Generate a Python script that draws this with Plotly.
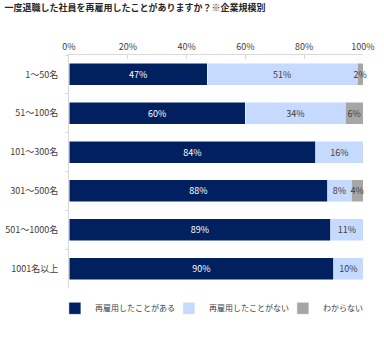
import plotly.graph_objects as go

categories = ["1～50名", "51～100名", "101～300名", "301～500名", "501～1000名", "1001名以上"]
series_names = ["再雇用したことがある", "再雇用したことがない", "わからない"]
yes_vals = [47, 60, 84, 88, 89, 90]
no_vals = [51, 34, 16, 8, 11, 10]
unk_vals = [2, 6, 0, 4, 0, 0]
colors = ["#002060", "#C6D9FF", "#A6A6A6"]
text_colors = ["#FFFFFF", "#404040", "#404040"]
x_ticks = [0, 20, 40, 60, 80, 100]
title = "一度退職した社員を再雇用したことがありますか？※企業規模別"

FONT = "Noto Sans CJK JP, sans-serif"

fig = go.Figure()
for name, vals, col, tcol in zip(series_names, [yes_vals, no_vals, unk_vals], colors, text_colors):
    fig.add_trace(go.Bar(
        y=categories, x=vals, name=name, orientation="h",
        marker=dict(color=col, line=dict(color="#FFFFFF", width=0.5)),
        text=[f"{v}%" if v > 0 else "" for v in vals],
        textposition="inside", insidetextanchor="middle", textangle=0,
        constraintext="none", cliponaxis=False,
        textfont=dict(color=tcol, size=9, family=FONT),
        width=0.57, hoverinfo="skip",
    ))

fig.update_layout(
    barmode="stack", width=384, height=337,
    margin=dict(l=69, r=21, t=55, b=49, autoexpand=False),
    paper_bgcolor="white", plot_bgcolor="white",
    font=dict(family=FONT, size=9, color="#404040"),
    title=dict(text="<b>" + title + "</b>", x=0.012, xanchor="left", y=0.985, yanchor="top",
               font=dict(size=9, color="#262626", family=FONT)),
    uniformtext=dict(minsize=8, mode="show"),
    showlegend=True,
    legend=dict(orientation="h", x=-0.048, xanchor="left", y=-0.025, yanchor="top",
                entrywidth=69, entrywidthmode="pixels", itemwidth=30,
                font=dict(size=8, color="#404040", family=FONT), traceorder="normal"),
)
fig.update_xaxes(
    side="top", range=[0, 100], tickvals=x_ticks,
    ticktext=[f"{t}%" for t in x_ticks],
    showgrid=False, zeroline=False, automargin=False,
    showline=True, linecolor="#D9D9D9", linewidth=1,
    ticks="inside", ticklen=4, tickcolor="#D9D9D9",
    tickfont=dict(size=9, color="#404040"),
)
fig.update_yaxes(
    autorange="reversed", showgrid=False, zeroline=False, automargin=False,
    showline=True, linecolor="#D9D9D9", linewidth=1,
    ticks="outside", ticklen=3, tickcolor="#D9D9D9", tickson="boundaries",
    tickfont=dict(size=9, color="#404040"), ticklabelstandoff=8,
)

fig.write_html("out.html")
